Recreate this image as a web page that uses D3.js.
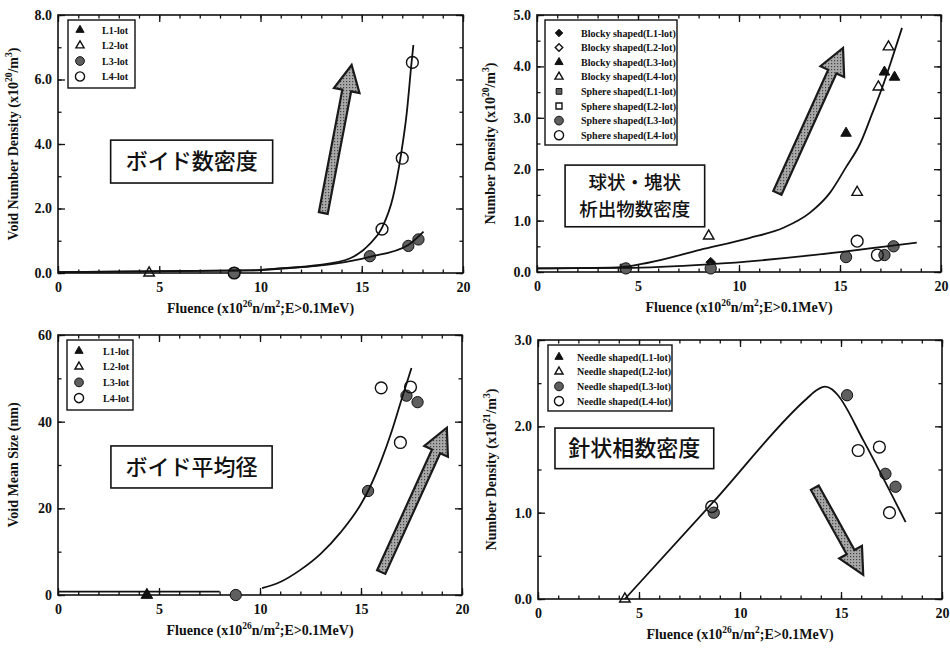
<!DOCTYPE html>
<html>
<head>
<meta charset="utf-8">
<script src="https://cdn.jsdelivr.net/npm/d3@7"></script>
<style>
  body { margin: 0; background: #fff; }
  svg text { font-family: "Liberation Serif", "Times New Roman", serif; }
</style>
</head>
<body>
<svg id="chart" width="950" height="649"></svg>
<script>
// shared x axis (fluence x10^26 n/m^2)
const fluenceTicks = [0, 5, 10, 15, 20];

// void number density (x10^20/m^3)
const voidDensityTicks = [0, 2, 4, 6, 8];
const voidDensityL2 = [[4.5, 0]];
const voidDensityL3 = [[8.7, 0], [15.4, 0.52], [17.3, 0.84], [17.8, 1.04]];
const voidDensityL4 = [[8.7, 0], [16.0, 1.36], [17.0, 3.56], [17.5, 6.53]];
const voidDensityFitL4 = [[0, 0.03], [9.5, 0.08], [11.1, 0.15], [12.8, 0.24], [14.4, 0.45], [15.4, 0.9], [16.0, 1.4], [16.55, 2.37], [16.92, 3.6], [17.22, 4.95], [17.46, 6.53], [17.55, 7.07]];
const voidDensityFitL3 = [[0, 0.03], [9.5, 0.08], [11.1, 0.14], [13.6, 0.28], [15.4, 0.5], [17.3, 0.87], [18.05, 1.28]];

// precipitate number density (x10^20/m^3)
const precipTicks = [0, 1, 2, 3, 4, 5];
const blockyL1 = [[8.6, 0.19]];
const blockyL2 = [];
const blockyL3 = [[15.3, 2.7], [17.2, 3.89], [17.7, 3.79]];
const blockyL4 = [[8.5, 0.7], [15.85, 1.55], [16.9, 3.6], [17.4, 4.38]];
const sphereL1 = [[4.3, 0.08]];
const sphereL2 = [];
const sphereL3 = [[4.4, 0.07], [8.6, 0.07], [15.3, 0.29], [17.2, 0.33], [17.65, 0.5]];
const sphereL4 = [[15.85, 0.6], [16.85, 0.33]];
const precipFitBlocky = [[0, 0.07], [4, 0.09], [5.5, 0.18], [8.07, 0.43], [10.5, 0.66], [12.2, 0.86], [13.5, 1.15], [14.5, 1.54], [15.3, 2.04], [16.0, 2.5], [16.6, 3.09], [17.1, 3.6], [17.6, 4.18], [18.07, 4.75]];
const precipFitSphere = [[0, 0.07], [4.3, 0.08], [8.5, 0.15], [18.8, 0.57]];

// void mean size (nm)
const voidSizeTicks = [0, 20, 40, 60];
const voidSizeL1 = [[4.4, 0]];
const voidSizeL2 = [[4.4, 0]];
const voidSizeL3 = [[8.8, 0], [15.35, 24], [17.25, 46], [17.8, 44.5]];
const voidSizeL4 = [[16.0, 47.8], [16.95, 35.2], [17.45, 48]];
const voidSizeFitLow = [[0, 0.8], [8, 0.8]];
const voidSizeFit = [[10.1, 1.6], [11.0, 3.0], [12.0, 5.8], [13.0, 9.5], [14.0, 14.5], [15.0, 21], [15.35, 24], [16.0, 31], [16.5, 37.5], [17.0, 45], [17.5, 52.4]];

// needle shaped number density (x10^21/m^3)
const needleTicks = [0, 1, 2, 3];
const needleL1 = [];
const needleL2 = [[4.3, 0]];
const needleL3 = [[8.7, 1.0], [15.3, 2.36], [17.2, 1.45], [17.7, 1.3]];
const needleL4 = [[8.6, 1.07], [15.85, 1.72], [16.9, 1.76], [17.4, 1.0]];
const needleFit = [[4.3, 0], [8.7, 1.13], [13.3, 2.32], [13.8, 2.42], [14.2, 2.46], [14.55, 2.43], [14.85, 2.36], [16.1, 1.84], [18.2, 0.89]];

const fluenceTitle = [['Fluence (x10'], ['26', 1], ['n/m'], ['2', 1], [';E>0.1MeV)']];

// stipple used inside the big arrows
const defs = d3.select('#chart').append('defs');
const stipple = defs.append('pattern')
  .attr('id', 'stipple')
  .attr('width', 3).attr('height', 3)
  .attr('patternUnits', 'userSpaceOnUse');
stipple.append('rect').attr('width', 3).attr('height', 3).attr('fill', '#a8a8a8');
stipple.append('rect').attr('width', 1.2).attr('height', 1.2).attr('fill', '#444');

class FluencePanel {
  constructor(_config, _data) {
    this.config = _config;
    this.data = _data;
    this.initVis();
  }

  initVis() {
    let vis = this;
    const c = vis.config;

    vis.g = d3.select('#chart').append('g')
      .attr('transform', `translate(${c.left},${c.top})`);

    vis.x = d3.scaleLinear().domain([0, 20]).range([0, c.width]);
    vis.y = d3.scaleLinear().domain(c.yDomain).range([c.height, 0]);

    // minor ticks, all four sides, pointing inward
    const xMinor = d3.range(0, 20.01, 1);
    const yMinor = d3.range(c.yDomain[0], c.yDomain[1] + 1e-6, c.yMinorStep);
    vis.g.append('g').attr('transform', `translate(0,${c.height})`)
      .call(d3.axisBottom(vis.x).tickValues(xMinor).tickSize(-3.5).tickFormat(''));
    vis.g.append('g')
      .call(d3.axisTop(vis.x).tickValues(xMinor).tickSize(-3.5).tickFormat(''));
    vis.g.append('g')
      .call(d3.axisLeft(vis.y).tickValues(yMinor).tickSize(-3.5).tickFormat(''));
    vis.g.append('g').attr('transform', `translate(${c.width},0)`)
      .call(d3.axisRight(vis.y).tickValues(yMinor).tickSize(-3.5).tickFormat(''));

    // major ticks with labels
    vis.g.append('g').attr('class', 'x-axis').attr('transform', `translate(0,${c.height})`)
      .call(d3.axisBottom(vis.x).tickValues(fluenceTicks).tickSizeInner(-7).tickSizeOuter(0).tickPadding(9));
    vis.g.append('g').attr('class', 'y-axis')
      .call(d3.axisLeft(vis.y).tickValues(c.yTicks).tickSizeInner(-7).tickSizeOuter(0).tickPadding(6)
        .tickFormat(d3.format(c.yFormat)));
    vis.g.append('g')
      .call(d3.axisTop(vis.x).tickValues(fluenceTicks).tickSize(-7).tickFormat(''));
    vis.g.append('g').attr('transform', `translate(${c.width},0)`)
      .call(d3.axisRight(vis.y).tickValues(c.yTicks).tickSize(-7).tickFormat(''));

    vis.g.selectAll('.domain').remove();
    vis.g.selectAll('.tick line').attr('stroke', '#111').attr('stroke-width', 1.3);
    vis.g.selectAll('.x-axis text, .y-axis text')
      .attr('fill', '#111')
      .style('font-size', '14px')
      .style('font-weight', 'bold');

    // plot frame
    vis.g.append('rect')
      .attr('width', c.width)
      .attr('height', c.height)
      .attr('fill', 'none')
      .attr('stroke', '#111')
      .attr('stroke-width', 1.6);

    // axis titles
    vis.richText(vis.g.append('text')
      .attr('x', c.width / 2)
      .attr('y', c.height + 40)
      .attr('text-anchor', 'middle'), fluenceTitle);

    vis.richText(vis.g.append('text')
      .attr('transform', `translate(${c.yTitleX},${c.height / 2}) rotate(-90)`)
      .attr('text-anchor', 'middle'), c.yTitle);

    // markers go first so the fit lines sit on top of them
    vis.data.series.forEach(s => {
      vis.g.selectAll(null)
        .data(s.values)
        .join('path')
        .attr('transform', d => `translate(${vis.x(d[0])},${vis.y(d[1])})`)
        .call(sel => vis.styleMarker(sel, s.shape, 1));
    });

    const line = d3.line()
      .x(d => vis.x(d[0]))
      .y(d => vis.y(d[1]))
      .curve(d3.curveMonotoneX);

    vis.data.fits.forEach(f => {
      vis.g.append('path')
        .attr('d', line(f))
        .attr('fill', 'none')
        .attr('stroke', '#111')
        .attr('stroke-width', 1.8);
    });

    vis.drawArrow(c.arrow);
    vis.drawNote(c.note);
    vis.drawLegend(c.legend);
  }

  richText(text, parts) {
    text.style('font-size', '14px').style('font-weight', 'bold').attr('fill', '#111');
    let up = false;
    parts.forEach(p => {
      const t = text.append('tspan').text(p[0]);
      if (p[1] && !up) { t.attr('dy', -6).style('font-size', '9.5px'); up = true; }
      else if (p[1]) { t.style('font-size', '9.5px'); }
      else if (up) { t.attr('dy', 6); up = false; }
    });
  }

  styleMarker(sel, shape, scale) {
    const symbols = {
      triFilled: [d3.symbolTriangle, 48], triOpen: [d3.symbolTriangle, 48],
      circleGray: [d3.symbolCircle, 100], circleOpen: [d3.symbolCircle, 110],
      diamondFilled: [d3.symbolDiamond2, 60], diamondOpen: [d3.symbolDiamond2, 60],
      squareGray: [d3.symbolSquare, 55], squareOpen: [d3.symbolSquare, 60]
    };
    const sym = symbols[shape];
    const open = shape.endsWith('Open');
    const gray = shape.endsWith('Gray');
    sel.attr('d', d3.symbol(sym[0], sym[1] * scale))
      .attr('fill', open ? 'none' : gray ? '#5f5f5f' : '#111')
      .attr('stroke', '#111')
      .attr('stroke-width', open ? 1.4 : 1);
  }

  drawArrow(a) {
    let vis = this;
    const x0 = vis.x(a.from[0]), y0 = vis.y(a.from[1]);
    const x1 = vis.x(a.to[0]), y1 = vis.y(a.to[1]);
    const len = Math.hypot(x1 - x0, y1 - y0);
    const ux = (x1 - x0) / len, uy = (y1 - y0) / len;
    const nx = -uy, ny = ux;
    const sw = 4.5, hw = 13, hl = 26;
    const bx = x1 - ux * hl, by = y1 - uy * hl;
    const pts = [
      [x0 + nx * sw, y0 + ny * sw],
      [bx + nx * sw, by + ny * sw],
      [bx + nx * hw, by + ny * hw],
      [x1, y1],
      [bx - nx * hw, by - ny * hw],
      [bx - nx * sw, by - ny * sw],
      [x0 - nx * sw, y0 - ny * sw]
    ];
    vis.g.append('polygon')
      .attr('points', pts.map(p => p.join(',')).join(' '))
      .attr('fill', 'url(#stipple)')
      .attr('stroke', '#1a1a1a')
      .attr('stroke-width', 2.2)
      .attr('stroke-linejoin', 'miter');
  }

  drawNote(n) {
    let vis = this;
    const x0 = vis.x(n.x[0]), x1 = vis.x(n.x[1]);
    const y0 = vis.y(n.y[0]), y1 = vis.y(n.y[1]);
    vis.g.append('rect')
      .attr('x', x0).attr('y', y0)
      .attr('width', x1 - x0).attr('height', y1 - y0)
      .attr('fill', '#fff')
      .attr('stroke', '#111')
      .attr('stroke-width', 1.6);
    const lh = n.lineHeight || n.size * 1.2;
    const top = (y0 + y1) / 2 - (n.lines.length - 1) * lh / 2;
    n.lines.forEach((t, i) => {
      vis.g.append('text')
        .attr('x', (x0 + x1) / 2)
        .attr('y', top + i * lh)
        .attr('dy', '0.35em')
        .attr('text-anchor', 'middle')
        .style('font-family', '"Noto Sans CJK JP", sans-serif')
        .style('font-size', n.size + 'px')
        .style('font-weight', 500)
        .attr('fill', '#111')
        .text(t);
    });
  }

  drawLegend(lg) {
    let vis = this;
    const g = vis.g.append('g').attr('transform', `translate(${lg.x},${lg.y})`);
    g.append('rect')
      .attr('width', lg.w).attr('height', lg.h)
      .attr('fill', '#fff')
      .attr('stroke', '#111')
      .attr('stroke-width', 1.4);
    vis.data.series.forEach((s, i) => {
      const row = g.append('g')
        .attr('transform', `translate(${lg.sx},${lg.first + i * lg.step})`);
      row.append('path').call(sel => vis.styleMarker(sel, s.shape, 0.6));
      row.append('text')
        .attr('x', lg.tx)
        .attr('dy', '0.35em')
        .style('font-size', lg.font + 'px')
        .style('font-weight', 'bold')
        .attr('fill', '#111')
        .text(s.label);
    });
  }
}

new FluencePanel({
  left: 58, top: 15, width: 405, height: 258,
  yDomain: [0, 8], yTicks: voidDensityTicks, yMinorStep: 1, yFormat: '.1f',
  yTitle: [['Void Number Density (x10'], ['20', 1], ['/m'], ['3', 1], [')']], yTitleX: -40,
  arrow: { from: [13.1, 1.86], to: [14.5, 6.45] },
  note: { x: [2.6, 10.6], y: [4.12, 2.79], size: 22, lines: ['ボイド数密度'] },
  legend: { x: 10, y: 5, w: 67, h: 68, sx: 12, tx: 22, first: 10, step: 15.5, font: 10 }
}, {
  series: [
    { label: 'L1-lot', shape: 'triFilled', values: [] },
    { label: 'L2-lot', shape: 'triOpen', values: voidDensityL2 },
    { label: 'L3-lot', shape: 'circleGray', values: voidDensityL3 },
    { label: 'L4-lot', shape: 'circleOpen', values: voidDensityL4 }
  ],
  fits: [voidDensityFitL4, voidDensityFitL3]
});

new FluencePanel({
  left: 537, top: 15, width: 404, height: 257,
  yDomain: [0, 5], yTicks: precipTicks, yMinorStep: 0.5, yFormat: '.1f',
  yTitle: [['Number Density (x10'], ['20', 1], ['/m'], ['3', 1], [')']], yTitleX: -42,
  arrow: { from: [11.9, 1.54], to: [15.15, 4.36] },
  note: { x: [1.39, 8.3], y: [2.08, 0.88], size: 18.5, lineHeight: 27.5, lines: ['球状・塊状', '析出物数密度'] },
  legend: { x: 8, y: 5, w: 132, h: 125, sx: 14, tx: 22, first: 13, step: 14.6, font: 10 }
}, {
  series: [
    { label: 'Blocky shaped(L1-lot)', shape: 'diamondFilled', values: blockyL1 },
    { label: 'Blocky shaped(L2-lot)', shape: 'diamondOpen', values: blockyL2 },
    { label: 'Blocky shaped(L3-lot)', shape: 'triFilled', values: blockyL3 },
    { label: 'Blocky shaped(L4-lot)', shape: 'triOpen', values: blockyL4 },
    { label: 'Sphere shaped(L1-lot)', shape: 'squareGray', values: sphereL1 },
    { label: 'Sphere shaped(L2-lot)', shape: 'squareOpen', values: sphereL2 },
    { label: 'Sphere shaped(L3-lot)', shape: 'circleGray', values: sphereL3 },
    { label: 'Sphere shaped(L4-lot)', shape: 'circleOpen', values: sphereL4 }
  ],
  fits: [precipFitBlocky, precipFitSphere]
});

new FluencePanel({
  left: 58, top: 335, width: 404, height: 260,
  yDomain: [0, 60], yTicks: voidSizeTicks, yMinorStep: 10, yFormat: 'd',
  yTitle: [['Void Mean Size (nm)']], yTitleX: -40,
  arrow: { from: [16.0, 5.3], to: [19.25, 38.6] },
  note: { x: [2.62, 10.6], y: [34.4, 24.7], size: 22, lines: ['ボイド平均径'] },
  legend: { x: 9, y: 5, w: 66, h: 70, sx: 12, tx: 24, first: 11, step: 15.7, font: 10 }
}, {
  series: [
    { label: 'L1-lot', shape: 'triFilled', values: voidSizeL1 },
    { label: 'L2-lot', shape: 'triOpen', values: voidSizeL2 },
    { label: 'L3-lot', shape: 'circleGray', values: voidSizeL3 },
    { label: 'L4-lot', shape: 'circleOpen', values: voidSizeL4 }
  ],
  fits: [voidSizeFitLow, voidSizeFit]
});

new FluencePanel({
  left: 538, top: 340, width: 404, height: 259,
  yDomain: [0, 3], yTicks: needleTicks, yMinorStep: 0.5, yFormat: '.1f',
  yTitle: [['Number Density (x10'], ['21', 1], ['/m'], ['3', 1], [')']], yTitleX: -42,
  arrow: { from: [13.7, 1.29], to: [16.1, 0.28] },
  note: { x: [0.84, 8.7], y: [1.98, 1.51], size: 22, lines: ['針状相数密度'] },
  legend: { x: 10, y: 5, w: 124, h: 66, sx: 11, tx: 18, first: 12, step: 14.7, font: 10 }
}, {
  series: [
    { label: 'Needle shaped(L1-lot)', shape: 'triFilled', values: needleL1 },
    { label: 'Needle shaped(L2-lot)', shape: 'triOpen', values: needleL2 },
    { label: 'Needle shaped(L3-lot)', shape: 'circleGray', values: needleL3 },
    { label: 'Needle shaped(L4-lot)', shape: 'circleOpen', values: needleL4 }
  ],
  fits: [needleFit]
});
</script>
</body>
</html>
